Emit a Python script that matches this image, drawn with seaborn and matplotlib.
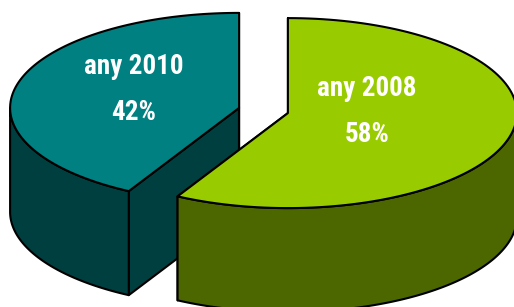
import numpy as np
import matplotlib
matplotlib.use("Agg")
import matplotlib.pyplot as plt
import seaborn as sns
from matplotlib.patches import Polygon

sns.set_theme(style="white")
plt.rcParams['font.family'] = ['Roboto Condensed', 'Liberation Sans Narrow', 'DejaVu Sans']

# data
labels = ["any 2008", "any 2010"]
shares = [58, 42]
top_colors = ["#99CC00", "#008080"]
side_colors = ["#4C6600", "#003F3F"]

# 3d pie geometry (pixel space)
CX, CY = 263.5, 110.5
RX, RY = 229, 95
DEPTH = 104
EXPLODE = 0.11
label_xy = [(367, 110), (134, 88)]


def pt(c, th, dz=0.0):
    t = np.radians(th)
    return (c[0] + RX * np.sin(t), c[1] - RY * np.cos(t) + dz)


def arc(c, a0, a1, dz=0.0, n=120):
    return [pt(c, a, dz) for a in np.linspace(a0, a1, n)]


fig = plt.figure(figsize=(5.14, 3.07), dpi=100)
ax = fig.add_axes([0, 0, 1, 1])
ax.set_xlim(0, 514)
ax.set_ylim(307, 0)
ax.axis("off")

frac = np.array(shares) / sum(shares) * 360
starts = np.concatenate([[0], np.cumsum(frac)[:-1]])
ends = starts + frac

kw = dict(edgecolor="black", linewidth=1.5, joinstyle="round")

# draw back slice (2010) first, then 2008 in front
for i in [1, 0]:
    a0, a1 = starts[i], ends[i]
    mid = np.radians((a0 + a1) / 2)
    c = (CX + EXPLODE * RX * np.sin(mid), CY - EXPLODE * RY * np.cos(mid))
    ctop, cbot = c, (c[0], c[1] + DEPTH)

    # cut faces
    for a in [a0, a1]:
        face = [ctop, pt(c, a), pt(c, a, DEPTH), cbot]
        ax.add_patch(Polygon(face, closed=True, facecolor=side_colors[i], **kw))

    # outer wall (front half only)
    w0, w1 = max(a0, 90), min(a1, 270)
    if w1 > w0:
        wall = arc(c, w0, w1) + arc(c, w1, w0, DEPTH)
        ax.add_patch(Polygon(wall, closed=True, facecolor=side_colors[i], **kw))

    # top face
    top = [ctop] + arc(c, a0, a1)
    ax.add_patch(Polygon(top, closed=True, facecolor=top_colors[i], **kw))

    lx, ly = label_xy[i]
    for dy, s in [(-22, labels[i]), (24, f"{shares[i]}%")]:
        ax.text(lx, ly + dy, s, color="white", fontsize=19.5, fontweight="bold",
                fontstretch="condensed", ha="center", va="center")

fig.savefig("out.png", dpi=100, facecolor="white")
